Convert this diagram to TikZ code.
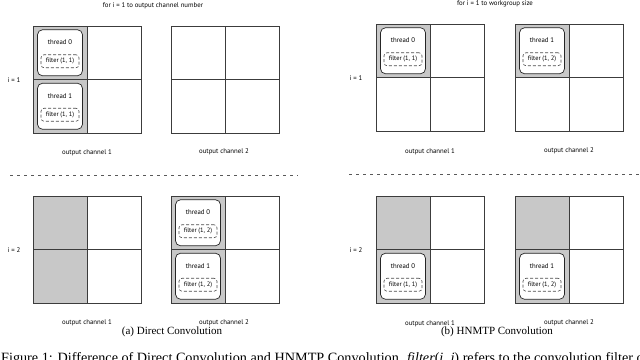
\documentclass[tikz,border=0pt]{standalone}
\usepackage{fontspec}
\setmainfont{Liberation Serif}
\setsansfont{PT Sans}
\usetikzlibrary{positioning}
\definecolor{cellgray}{RGB}{200,200,200}
\definecolor{linegray}{RGB}{60,60,60}
\tikzset{
  gridline/.style={draw=linegray, line width=0.7pt},
  busy/.style={fill=cellgray},
  threadbox/.style={draw=black!85, fill=white, line width=0.7pt, rounded corners=5pt,
    minimum width=45pt, minimum height=46pt, inner sep=0pt},
  filterbox/.style={draw=black!70, dash pattern=on 3pt off 2pt, line width=0.6pt,
    rounded corners=3pt, minimum width=38pt, minimum height=13pt, inner sep=0pt,
    font=\sffamily\fontsize{6.4}{7}\selectfont},
  lbl/.style={font=\sffamily\fontsize{6.8}{8}\selectfont, inner sep=0pt},
  sepline/.style={draw=black!65, dash pattern=on 3pt off 4pt, line width=0.5pt}
}
% 2x2 block of one output channel, #1 = name, (#2,#3) = top left corner
\newcommand{\chgrid}[3]{%
  \draw[gridline] (#2,#3) rectangle ++(108,107);
  \draw[gridline] (#2+54,#3) -- ++(0,107);
  \draw[gridline] (#2,#3+53.5) -- ++(108,0);
  \coordinate (#1) at (#2,#3);}
% rounded thread box in the cell centred at (#2,#3)
\newcommand{\threadcell}[5]{%
  \node[threadbox] (#1) at (#2,#3) {};
  \node[lbl] (#1t) at (#2,#3-10.5) {#4};
  \node[filterbox] (#1f) at (#2,#3+8.5) {#5};}

\begin{document}
\begin{tikzpicture}[x=1pt, y=-1pt]
  \useasboundingbox (0,0) rectangle (640,359);
  \clip (0,0) rectangle (640,359);

  % shaded cells
  \fill[busy] (33,26) rectangle (87,133);
  \fill[busy] (33,196) rectangle (87,303);
  \fill[busy] (171,196) rectangle (225,303);
  \fill[busy] (376,24) rectangle (430,77.5);
  \fill[busy] (515,24) rectangle (569,77.5);
  \fill[busy] (376,196) rectangle (430,303);
  \fill[busy] (515,196) rectangle (569,303);

  % (a) direct convolution
  \chgrid{a1}{33}{26}
  \chgrid{a2}{171}{26}
  \chgrid{a3}{33}{196}
  \chgrid{a4}{171}{196}
  \threadcell{ta1}{60}{52.75}{thread 0}{filter (1, 1)}
  \threadcell{ta2}{60}{106.25}{thread 1}{filter (1, 1)}
  \threadcell{ta3}{198}{222.75}{thread 0}{filter (1, 2)}
  \threadcell{ta4}{198}{276.25}{thread 1}{filter (1, 2)}

  \node[lbl] (titlea) at (153,6) {for i = 1 to output channel number};
  \node[lbl] (ia1) at (14,80) {i = 1};
  \node[lbl] (ia2) at (14,250) {i = 2};
  \node[lbl] (oa1) at (87,153) {output channel 1};
  \node[lbl] (oa2) at (224,152) {output channel 2};
  \node[lbl] (oa3) at (87,323) {output channel 1};
  \node[lbl] (oa4) at (224,323) {output channel 2};
  \coordinate (sepa1) at (10,175);
  \coordinate (sepa2) at (298,175);
  \draw[sepline] (sepa1) -- (sepa2);

  % (b) HNMTP convolution
  \chgrid{b1}{376}{24}
  \chgrid{b2}{515}{24}
  \chgrid{b3}{376}{196}
  \chgrid{b4}{515}{196}
  \threadcell{tb1}{403}{50.75}{thread 0}{filter (1, 1)}
  \threadcell{tb2}{542}{50.75}{thread 1}{filter (1, 2)}
  \threadcell{tb3}{403}{276.25}{thread 0}{filter (1, 1)}
  \threadcell{tb4}{542}{276.25}{thread 1}{filter (1, 2)}

  \node[lbl] (titleb) at (495,4) {for i = 1 to workgroup size};
  \node[lbl] (ib1) at (356,78) {i = 1};
  \node[lbl] (ib2) at (356,250) {i = 2};
  \node[lbl] (ob1) at (430,152) {output channel 1};
  \node[lbl] (ob2) at (569,151) {output channel 2};
  \node[lbl] (ob3) at (430,324) {output channel 1};
  \node[lbl] (ob4) at (569,323) {output channel 2};
  \coordinate (sepb1) at (349,174);
  \coordinate (sepb2) at (640,174);
  \draw[sepline] (sepb1) -- (sepb2);

  % captions
  \node[font=\fontsize{11}{13}\selectfont, inner sep=0pt] (capa) at (172,332) {(a) Direct Convolution};
  \node[font=\fontsize{11}{13}\selectfont, inner sep=0pt] (capb) at (497,332) {(b) HNMTP Convolution};
  \node[anchor=base west, font=\fontsize{14.2}{16}\selectfont, inner sep=0pt] (figcap) at (1,362)
    {Figure 1: Difference of Direct Convolution and HNMTP Convolution. {\itshape filter}({\itshape i, j}) refers to the convolution filter of the};
\end{tikzpicture}
\end{document}
